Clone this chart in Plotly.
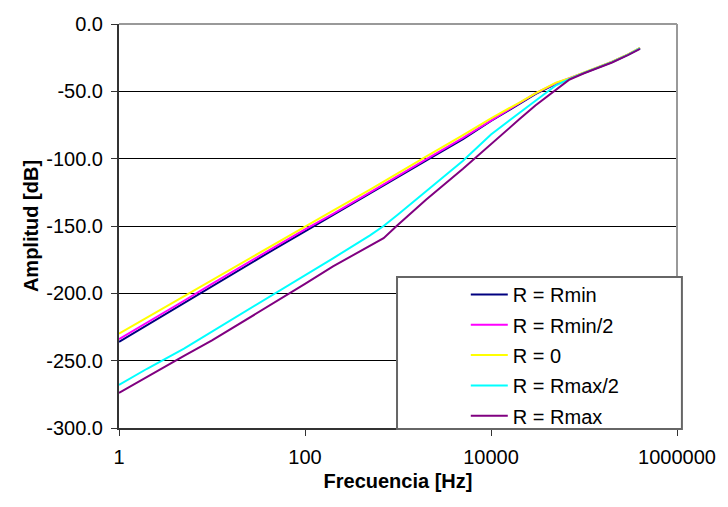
import plotly.graph_objects as go

freq = [1, 2, 5, 10, 20, 50, 100, 200, 500, 700, 1000, 2000, 5000, 10000, 20000,
        30000, 50000, 70000, 100000, 200000, 300000, 400000]

r_min = [-236, -223.5, -207, -194.5, -182, -166, -154, -142, -126, -120.2, -114, -101.5,
         -85.5, -72, -59.5, -52, -44.5, -40.5, -36.2, -28.2, -22.6, -18]
r_min_half = [-234, -222, -205.5, -193, -180.5, -164.5, -152.5, -141, -125, -119.2, -113,
              -100.5, -84.5, -71.5, -59, -51.5, -44, -40.3, -36.1, -28.1, -22.5, -17.9]
r_zero = [-230, -218, -202, -190, -178, -162, -150, -138.5, -123, -117.2, -111, -98.5,
          -82.5, -70, -58.5, -51.5, -43.5, -40.2, -36, -28, -22.4, -17.8]
r_max_half = [-268, -256, -241, -228.5, -215.5, -199, -187, -174, -157, -150, -141.5,
              -124, -101.5, -82, -66, -57, -45.5, -40.8, -36.3, -28.3, -22.7, -18.1]
r_max = [-274, -262, -246.5, -235, -222.5, -205.5, -193, -180, -164.5, -159, -149,
         -130.5, -107.5, -89, -71, -60.5, -48.5, -41.2, -36.6, -28.6, -23, -18.5]

series_names = ["R = Rmin", "R = Rmin/2", "R = 0", "R = Rmax/2", "R = Rmax"]
series_values = [r_min, r_min_half, r_zero, r_max_half, r_max]
series_colors = ["#000080", "#FF00FF", "#FFFF00", "#00FFFF", "#800080"]

y_tick_vals = [0, -50, -100, -150, -200, -250, -300]
y_tick_text = ["0.0", "-50.0", "-100.0", "-150.0", "-200.0", "-250.0", "-300.0"]
x_tick_vals = [1, 100, 10000, 1000000]
x_tick_text = ["1", "100", "10000", "1000000"]

FONT = "Liberation Sans, Arial, sans-serif"

fig = go.Figure()
for i, (name, vals, col) in enumerate(zip(series_names, series_values, series_colors)):
    fig.add_trace(go.Scatter(x=freq, y=vals, mode="lines", name=name,
                             legendgroup=f"g{i}",
                             line=dict(color=col, width=2)))

fig.update_layout(
    width=728, height=507,
    margin=dict(l=119, r=41, t=24, b=79),
    paper_bgcolor="white", plot_bgcolor="white",
    font=dict(family=FONT, color="black", size=20),
    showlegend=True,
    legend=dict(x=(472 - 119) / 568, y=(428 - 275) / 404, xanchor="left", yanchor="top",
                bgcolor="rgba(0,0,0,0)", borderwidth=0, itemwidth=37,
                font=dict(family=FONT, size=20, color="black"),
                tracegroupgap=1.3, traceorder="grouped"),
    xaxis=dict(type="log", range=[0, 6], tickvals=x_tick_vals, ticktext=x_tick_text,
               showgrid=False, zeroline=False, showline=True, linecolor="#333333",
               linewidth=2, ticks="outside", ticklen=6, tickcolor="#333333", tickwidth=1,
               ticklabelstandoff=4,
               title=dict(text="<b>Frecuencia [Hz]</b>", font=dict(size=20), standoff=7)),
    yaxis=dict(range=[-300, 0], tickvals=y_tick_vals, ticktext=y_tick_text,
               showgrid=True, gridcolor="black", gridwidth=1, zeroline=False,
               showline=True, linecolor="#333333", linewidth=2,
               ticks="outside", ticklen=6, tickcolor="#333333", tickwidth=1,
               ticklabelstandoff=4,
               title=dict(text="<b>Amplitud [dB]</b>", font=dict(size=20), standoff=2)),
    shapes=[
        dict(type="line", xref="paper", yref="paper", x0=0, x1=1, y0=1, y1=1,
             line=dict(color="#999999", width=2)),
        dict(type="line", xref="paper", yref="paper", x0=1, x1=1, y0=0, y1=1,
             line=dict(color="#999999", width=2)),
        dict(type="rect", xref="paper", yref="paper",
             x0=(402 - 119) / 568, x1=(692 - 119) / 568,
             y0=(428 - 429) / 404, y1=(428 - 277) / 404,
             line=dict(color="#666666", width=2), fillcolor="white", layer="above"),
    ],
)

fig.write_html("out.html")
